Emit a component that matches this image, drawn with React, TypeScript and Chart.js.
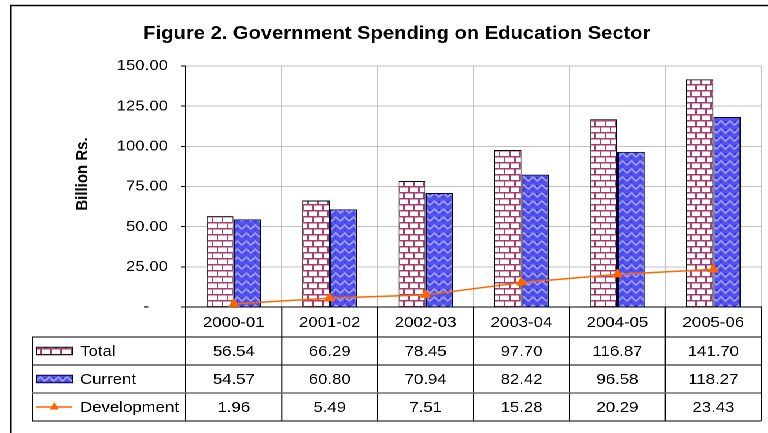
import React, { useEffect, useRef } from 'react';
import { Chart, registerables } from 'chart.js';

Chart.register(...registerables);

const categories = ['2000-01', '2001-02', '2002-03', '2003-04', '2004-05', '2005-06'];
const totalValues = [56.54, 66.29, 78.45, 97.7, 116.87, 141.7];
const currentValues = [54.57, 60.8, 70.94, 82.42, 96.58, 118.27];
const developmentValues = [1.96, 5.49, 7.51, 15.28, 20.29, 23.43];
const yTicks = [0, 25, 50, 75, 100, 125, 150];
const seriesNames = ['Total', 'Current', 'Development'];
const chartTitle = 'Figure 2. Government Spending on Education Sector';
const yTitle = 'Billion Rs.';

const W = 686;
const H = 433;
const SX = 768 / W;
const FONT = 'Arial, "Liberation Sans", sans-serif';

function makePattern(w: number, h: number, draw: (g: CanvasRenderingContext2D) => void): CanvasPattern | string {
  const s = 4;
  const c = document.createElement('canvas');
  c.width = w * s;
  c.height = h * s;
  const g = c.getContext('2d');
  if (!g) return '#888';
  g.scale(s, s);
  draw(g);
  const p = g.createPattern(c, 'repeat');
  if (!p) return '#888';
  try {
    p.setTransform(new DOMMatrix().scale(1 / s));
  } catch (e) {
    /* ignore */
  }
  return p;
}

function brickPattern() {
  return makePattern(9, 12, (g) => {
    g.fillStyle = '#ffffff';
    g.fillRect(0, 0, 9, 12);
    g.strokeStyle = '#A3406F';
    g.lineWidth = 1.5;
    g.beginPath();
    g.moveTo(0, 0.75);
    g.lineTo(9, 0.75);
    g.moveTo(0, 6.75);
    g.lineTo(9, 6.75);
    g.moveTo(0.75, 0);
    g.lineTo(0.75, 6.75);
    g.moveTo(5.25, 6.75);
    g.lineTo(5.25, 12);
    g.stroke();
  });
}

function bluePattern() {
  return makePattern(8, 8, (g) => {
    g.fillStyle = '#5252F2';
    g.fillRect(0, 0, 8, 8);
    g.strokeStyle = '#A6A6FF';
    g.lineWidth = 1.4;
    g.beginPath();
    g.moveTo(-1, 6);
    g.lineTo(4, 1);
    g.lineTo(9, 6);
    g.stroke();
    g.fillStyle = '#2424C8';
    g.fillRect(3.5, 5, 1, 1);
    g.fillRect(0, 1.5, 1, 1);
    g.fillRect(7, 1.5, 1, 1);
  });
}

export default function App() {
  const ref = useRef<HTMLCanvasElement>(null);

  useEffect(() => {
    const canvas = ref.current;
    if (!canvas) return;
    const brick = brickPattern();
    const blue = bluePattern();

    const tablePlugin = {
      id: 'dataTable',
      afterDraw(chart: any) {
        const { ctx, chartArea } = chart;
        const { left, right, bottom } = chartArea;
        const xs = chart.scales.x;
        const n = categories.length;
        const cw = (right - left) / n;
        const tLeft = 29;
        const r0 = bottom;
        const r1 = r0 + 30;
        const r2 = r1 + 28;
        const r3 = r2 + 28;
        const r4 = r3 + 28;
        ctx.save();
        // outer frame
        ctx.strokeStyle = '#000';
        ctx.lineWidth = 1.5;
        ctx.beginPath();
        ctx.moveTo(9.5, H);
        ctx.lineTo(9.5, 5.5);
        ctx.lineTo(W, 5.5);
        ctx.stroke();

        // table grid
        ctx.lineWidth = 1;
        ctx.strokeStyle = '#000';
        ctx.beginPath();
        for (let i = 0; i <= n; i++) {
          const x = left + i * cw;
          ctx.moveTo(x, r0);
          ctx.lineTo(x, r4);
        }
        ctx.moveTo(tLeft, r1);
        ctx.lineTo(tLeft, r4);
        ctx.moveTo(tLeft, r1);
        ctx.lineTo(right, r1);
        ctx.moveTo(tLeft, r2);
        ctx.lineTo(right, r2);
        ctx.moveTo(tLeft, r4);
        ctx.lineTo(right, r4);
        ctx.stroke();
        ctx.strokeStyle = '#707070';
        ctx.lineWidth = 1.5;
        ctx.beginPath();
        ctx.moveTo(tLeft, r3);
        ctx.lineTo(right, r3);
        ctx.stroke();

        // texts
        ctx.fillStyle = '#000';
        ctx.font = `15px ${FONT}`;
        ctx.textAlign = 'center';
        ctx.textBaseline = 'middle';
        const rows = [totalValues, currentValues, developmentValues];
        const rowMid = [(r1 + r2) / 2, (r2 + r3) / 2, (r3 + r4) / 2];
        categories.forEach((c, i) => {
          const x = xs.getPixelForValue(i);
          ctx.fillText(c, x, (r0 + r1) / 2 + 1);
          rows.forEach((vals, k) => {
            ctx.fillText(vals[i].toFixed(2), x, rowMid[k] + 1);
          });
        });
        ctx.textAlign = 'left';
        seriesNames.forEach((name, k) => {
          ctx.fillText(name, 71.5, rowMid[k] + 1);
        });

        // legend keys
        const kx = 32.5;
        const kw = 32;
        const kh = 7.5;
        ctx.lineWidth = 1;
        ctx.strokeStyle = '#000';
        ctx.fillStyle = brick as any;
        ctx.fillRect(kx, rowMid[0] - kh / 2, kw, kh);
        ctx.strokeRect(kx, rowMid[0] - kh / 2, kw, kh);
        ctx.fillStyle = blue as any;
        ctx.fillRect(kx, rowMid[1] - kh / 2, kw, kh);
        ctx.strokeStyle = '#000033';
        ctx.strokeRect(kx, rowMid[1] - kh / 2, kw, kh);
        ctx.strokeStyle = '#FF6600';
        ctx.lineWidth = 1.5;
        ctx.beginPath();
        ctx.moveTo(kx, rowMid[2]);
        ctx.lineTo(kx + kw, rowMid[2]);
        ctx.stroke();
        const cx = kx + kw / 2;
        const cy = rowMid[2];
        ctx.fillStyle = '#FF6600';
        ctx.beginPath();
        ctx.moveTo(cx, cy - 5);
        ctx.lineTo(cx + 4, cy + 2.5);
        ctx.lineTo(cx - 4, cy + 2.5);
        ctx.closePath();
        ctx.fill();
        ctx.restore();
      },
    };

    const chart = new Chart(canvas, {
      type: 'bar',
      data: {
        labels: categories,
        datasets: [
          {
            label: seriesNames[0],
            data: totalValues,
            backgroundColor: brick as any,
            borderColor: '#000000',
            borderWidth: 1,
            categoryPercentage: 0.57,
            barPercentage: 1,
            order: 1,
          },
          {
            label: seriesNames[1],
            data: currentValues,
            backgroundColor: blue as any,
            borderColor: '#000033',
            borderWidth: 1,
            categoryPercentage: 0.57,
            barPercentage: 1,
            order: 1,
          },
          {
            type: 'line',
            label: seriesNames[2],
            data: developmentValues,
            borderColor: '#FF6600',
            backgroundColor: '#FF6600',
            borderWidth: 1.5,
            pointStyle: 'triangle',
            pointRadius: 4.5,
            pointBackgroundColor: '#FF6600',
            pointBorderColor: '#FF6600',
            tension: 0,
            order: 0,
          } as any,
        ],
      },
      options: {
        animation: false,
        responsive: false,
        devicePixelRatio: 2,
        layout: { padding: { left: 27, right: 4, top: 0, bottom: 126 } },
        plugins: {
          legend: { display: false },
          tooltip: { enabled: false },
          title: {
            display: true,
            text: chartTitle,
            color: '#000',
            font: { family: FONT, size: 18, weight: 'bold' },
            padding: { top: 23, bottom: 21.4 },
          },
        },
        scales: {
          x: {
            grid: { color: '#C0C0C0', lineWidth: 1, drawTicks: false, offset: true },
            border: { color: '#000', width: 1 },
            ticks: { display: false },
            afterFit: (s: any) => {
              s.height = 0;
            },
          },
          y: {
            min: 0,
            max: 150,
            afterBuildTicks: (s: any) => {
              s.ticks = yTicks.map((v) => ({ value: v }));
            },
            ticks: {
              color: '#000',
              font: { family: FONT, size: 15 },
              padding: 11.5,
              callback: (v: any) => (Number(v) === 0 ? '-    ' : Number(v).toFixed(2)),
            },
            grid: { color: '#C0C0C0', tickColor: '#000', tickLength: 4.5, drawTicks: true },
            border: { color: '#000', width: 1 },
            title: {
              display: true,
              text: '      ' + yTitle,
              color: '#000',
              font: { family: FONT, size: 15, weight: 'bold' },
              padding: { top: 38, bottom: 0 },
            },
            afterFit: (s: any) => {
              s.width = 139;
            },
          },
        },
      } as any,
      plugins: [tablePlugin],
    });

    return () => {
      chart.destroy();
    };
  }, []);

  return (
    <div
      style={{
        position: 'absolute',
        left: 0,
        top: 0,
        width: W,
        height: H,
        transform: `scaleX(${SX})`,
        transformOrigin: '0 0',
        background: '#fff',
      }}
    >
      <canvas ref={ref} width={W} height={H} style={{ display: 'block' }} />
    </div>
  );
}
